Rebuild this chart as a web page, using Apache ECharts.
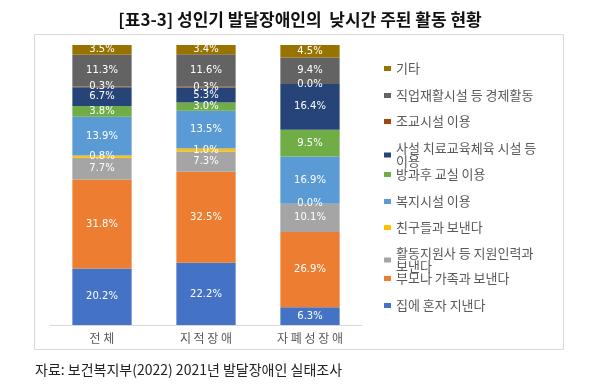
<!DOCTYPE html>
<html><head><meta charset="utf-8">
<script src="https://cdn.jsdelivr.net/npm/echarts@6/dist/echarts.min.js"></script>
<style>html,body{margin:0;padding:0;background:#fff}#c{width:600px;height:386px}</style>
</head><body><div id="c"></div>
<script>
const categories = ['전 체', '지 적 장 애', '자 폐 성 장 애'];
const seriesNames = ['집에 혼자 지낸다', '부모나 가족과 보낸다', '활동지원사 등 지원인력과\n보낸다', '친구들과 보낸다', '복지시설 이용', '방과후 교실 이용', '사설 치료교육체육 시설 등\n이용', '조교시설 이용', '직업재활시설 등 경제활동', '기타'];
const aloneHome = [20.2, 22.2, 6.3];
const parentsFamily = [31.8, 32.5, 26.9];
const supportWorker = [7.7, 7.3, 10.1];
const friends = [0.8, 1.0, 0.0];
const welfareFacility = [13.9, 13.5, 16.9];
const afterSchool = [3.8, 3.0, 9.5];
const privateTherapy = [6.7, 5.3, 16.4];
const assistFacility = [0.3, 0.3, 0.0];
const vocational = [11.3, 11.6, 9.4];
const other = [3.5, 3.4, 4.5];
const seriesValues = [aloneHome, parentsFamily, supportWorker, friends, welfareFacility, afterSchool, privateTherapy, assistFacility, vocational, other];
const colors = ['#4472C4', '#ED7D31', '#A5A5A5', '#FFC000', '#5B9BD5', '#70AD47', '#264478', '#9E480E', '#636363', '#997300'];

const font = '"Noto Sans CJK KR", "Noto Sans", sans-serif';
const chart = echarts.init(document.getElementById('c'), null, {renderer: 'canvas'});

const legendTops = [62, 89, 115, 142, 168, 195, 221, 247, 272, 299];
const legends = [];
for (let k = 0; k < 10; k++) {
  const idx = 9 - k;
  legends.push({
    left: 384, top: legendTops[k], orient: 'vertical', data: [seriesNames[idx]],
    itemWidth: 7, itemHeight: 5, itemGap: 0, itemStyle: {borderWidth: 0},
    icon: 'rect', selectedMode: false, padding: 0,
    textStyle: {fontFamily: font, fontSize: 13, color: '#595959', lineHeight: 13}
  });
}

chart.setOption({
  animation: false,
  color: colors,
  title: {
    text: '[표3-3] 성인기 발달장애인의  낮시간 주된 활동 현황', left: 'center', top: 6,
    textStyle: {fontFamily: font, fontSize: 17, fontWeight: 'bold', color: '#111'}
  },
  graphic: [
    {type: 'rect', shape: {x: 34.5, y: 34.5, width: 529, height: 315}, style: {fill: 'none', stroke: '#d9d9d9', lineWidth: 1}, z: -1},
    {type: 'text', left: 35, top: 363, style: {text: '자료: 보건복지부(2022) 2021년 발달장애인 실태조사', font: '14px ' + font, fill: '#222'}}
  ],
  legend: legends,
  grid: {left: 50, right: 238, top: 45, bottom: 61},
  xAxis: {
    type: 'category', data: categories,
    axisLine: {lineStyle: {color: '#d9d9d9'}}, axisTick: {show: false},
    axisLabel: {fontFamily: font, fontSize: 12, color: '#595959', margin: 7}
  },
  yAxis: {type: 'value', min: 0, max: 100, show: false, splitLine: {show: false}},
  series: seriesValues.map((vals, i) => ({
    name: seriesNames[i], type: 'bar', stack: 'all', data: vals,
    barCategoryGap: '43%',
    itemStyle: {color: colors[i]},
    label: {show: true, position: 'inside', formatter: p => p.value.toFixed(1) + '%',
      fontFamily: 'DejaVu Sans, sans-serif', fontSize: 10, color: '#fff'}
  }))
});
</script></body></html>
